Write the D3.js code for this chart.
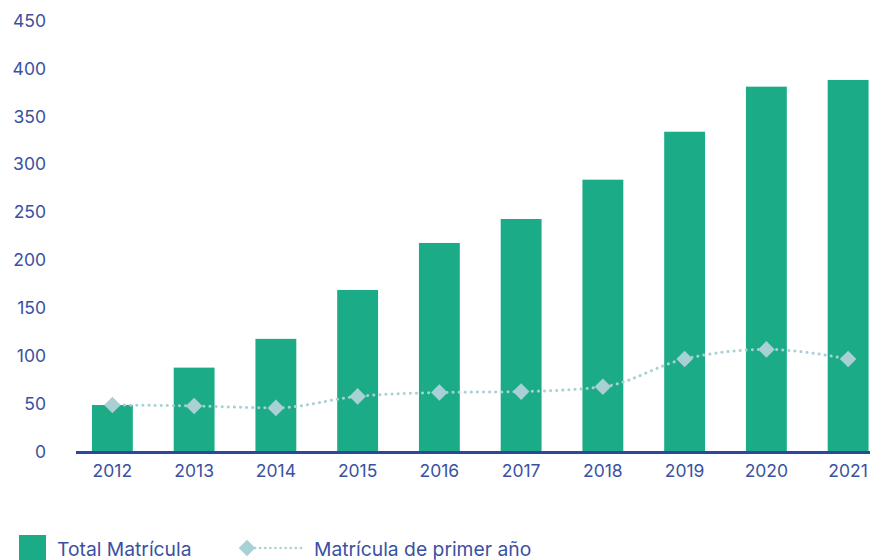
<!DOCTYPE html>
<html>
<head>
<meta charset="utf-8">
<script src="https://cdn.jsdelivr.net/npm/d3@7"></script>
<style>
  body { margin: 0; background: #fff; }
  svg text { font-family: Inter, "Noto Sans", sans-serif; }
</style>
</head>
<body>
<div class="chart"></div>
<script>
const years = ["2012","2013","2014","2015","2016","2017","2018","2019","2020","2021"];
const totalMatricula = [49, 88, 118, 169, 218, 243, 284, 334, 381, 388];
const primerAnio = [49, 48, 46, 58, 62, 63, 68, 97, 107, 97];
const yTicks = [0, 50, 100, 150, 200, 250, 300, 350, 400, 450];

const width = 870, height = 560;
const barColor = "#1bac87";
const lineColor = "#a9d0d4";
const textColor = "#3a51a3";
const axisColor = "#2c479c";

const svg = d3.select(".chart").append("svg")
  .attr("width", width)
  .attr("height", height);

let x = d3.scaleBand().domain(years).range([71.5, 889]).paddingInner(0.5).paddingOuter(0.25);
let y = d3.scaleLinear().domain([0, 450]).range([452, 20.5]);

// y tick labels
svg.append("g")
  .selectAll("text")
  .data(yTicks)
  .join("text")
    .attr("x", 46)
    .attr("y", d => y(d))
    .attr("dy", "0.35em")
    .attr("text-anchor", "end")
    .attr("fill", textColor)
    .attr("font-size", 17.5)
    .text(d => d);

// bars
svg.append("g")
  .selectAll("rect")
  .data(years)
  .join("rect")
    .attr("x", d => x(d))
    .attr("y", (d, i) => y(totalMatricula[i]))
    .attr("width", x.bandwidth())
    .attr("height", (d, i) => y(0) - y(totalMatricula[i]))
    .attr("fill", barColor);

// baseline
svg.append("line")
  .attr("x1", 76).attr("x2", width)
  .attr("y1", y(0) + 0.5).attr("y2", y(0) + 0.5)
  .attr("stroke", axisColor)
  .attr("stroke-width", 3);

// x labels
svg.append("g")
  .selectAll("text")
  .data(years)
  .join("text")
    .attr("x", d => x(d) + x.bandwidth() / 2)
    .attr("y", 471)
    .attr("dy", "0.35em")
    .attr("text-anchor", "middle")
    .attr("fill", textColor)
    .attr("font-size", 17.5)
    .text(d => d);

// first-year line
let pts = years.map((d, i) => [x(d) + x.bandwidth() / 2, y(primerAnio[i])]);
let line = d3.line().curve(d3.curveMonotoneX);

svg.append("path")
  .attr("d", line(pts))
  .attr("fill", "none")
  .attr("stroke", lineColor)
  .attr("stroke-width", 3)
  .attr("stroke-linecap", "round")
  .attr("stroke-dasharray", "0.1 6");

let diamond = d3.symbol().type(d3.symbolDiamond2).size(175);
svg.append("g")
  .selectAll("path")
  .data(pts)
  .join("path")
    .attr("transform", d => `translate(${d[0]},${d[1]})`)
    .attr("d", diamond)
    .attr("fill", lineColor);

// legend
const lg = svg.append("g");
lg.append("rect")
  .attr("x", 19).attr("y", 535)
  .attr("width", 27).attr("height", 27)
  .attr("fill", barColor);
lg.append("text")
  .attr("x", 57).attr("y", 549)
  .attr("dy", "0.35em")
  .attr("fill", textColor)
  .attr("font-size", 19.3)
  .text("Total Matrícula");
lg.append("line")
  .attr("x1", 255).attr("x2", 305)
  .attr("y1", 548).attr("y2", 548)
  .attr("stroke", lineColor)
  .attr("stroke-width", 2.5)
  .attr("stroke-linecap", "round")
  .attr("stroke-dasharray", "0.1 5");
lg.append("path")
  .attr("transform", "translate(247,548)")
  .attr("d", diamond)
  .attr("fill", lineColor);
lg.append("text")
  .attr("x", 314).attr("y", 549)
  .attr("dy", "0.35em")
  .attr("fill", textColor)
  .attr("font-size", 19.3)
  .text("Matrícula de primer año");
</script>
</body>
</html>
